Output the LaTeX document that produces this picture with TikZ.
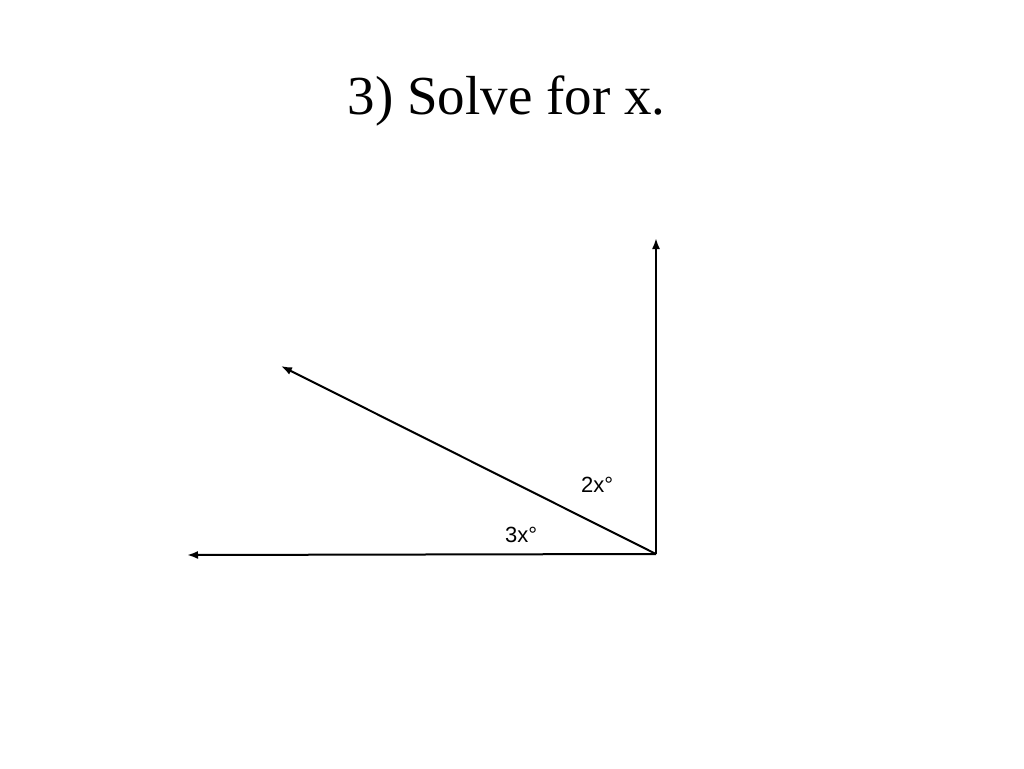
\documentclass[tikz,border=0pt]{standalone}
\usepackage{fontspec}
\setmainfont{Liberation Serif}
\newfontfamily\labelfont{Liberation Sans}
\usetikzlibrary{arrows.meta}
\begin{document}
\begin{tikzpicture}[x=1pt,y=-1pt,
  ray/.style={line width=2pt,-{Latex[length=11pt,width=8pt]}},
  anglabel/.style={font=\labelfont\fontsize{22}{25}\selectfont,inner sep=0pt,anchor=base west}]
\useasboundingbox (0,0) rectangle (1024,768);
\node[font=\fontsize{55}{60}\selectfont,inner sep=0pt,anchor=base] (title) at (506.5,114) {3) Solve for x.};
\coordinate (O) at (656,554);
\coordinate (up) at (656,238);
\coordinate (diag) at (281,366);
\coordinate (left) at (187,555);
\draw[ray] (O) -- (up);
\draw[ray] (O) -- (diag);
\draw[ray] (O) -- (left);
\node[anglabel] (a2) at (581,492) {2x°};
\node[anglabel] (a3) at (505,542) {3x°};
\end{tikzpicture}
\end{document}
